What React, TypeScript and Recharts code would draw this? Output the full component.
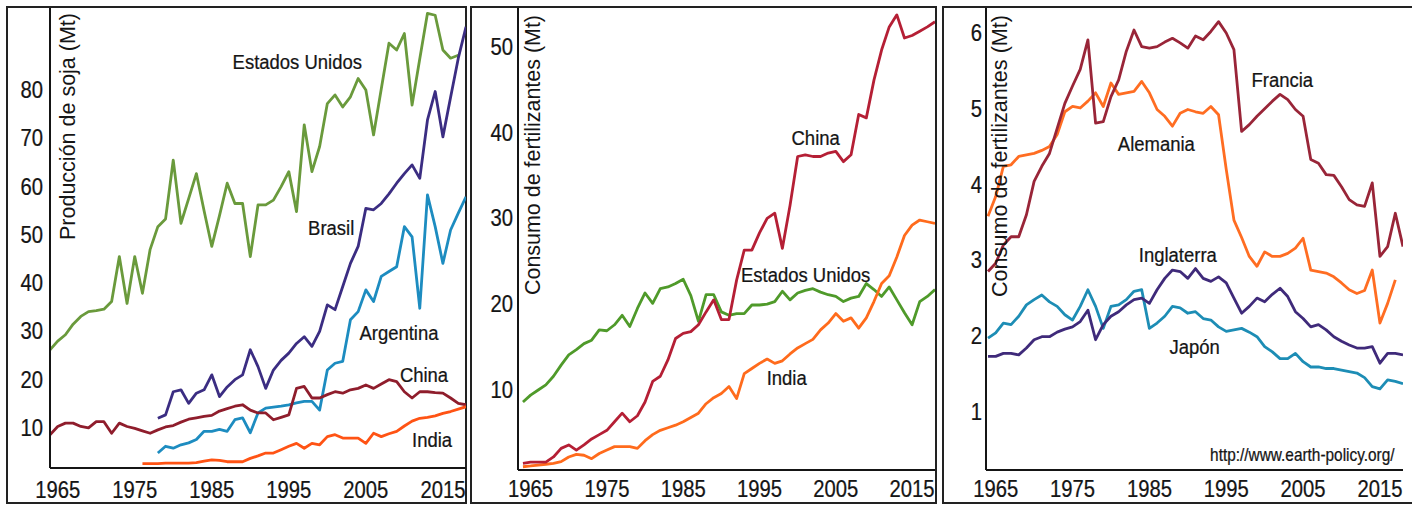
import React from "react";
import { LineChart, Line, XAxis, YAxis, ReferenceDot } from "recharts";

const FONT = '"Liberation Sans", Arial, Helvetica, sans-serif';
const INK = "#151515";

const YEARS = [
  1964, 1965, 1966, 1967, 1968, 1969, 1970, 1971, 1972, 1973,
  1974, 1975, 1976, 1977, 1978, 1979, 1980, 1981, 1982, 1983,
  1984, 1985, 1986, 1987, 1988, 1989, 1990, 1991, 1992, 1993,
  1994, 1995, 1996, 1997, 1998, 1999, 2000, 2001, 2002, 2003,
  2004, 2005, 2006, 2007, 2008, 2009, 2010, 2011, 2012, 2013,
  2014, 2015, 2016, 2017, 2018,
];
const YEAR_TICKS = [1965, 1975, 1985, 1995, 2005, 2015];

// --- producción de soja (Mt) ---
const SOY_US = [
  26.2, 28.0, 29.3, 31.5, 33.1, 34.1, 34.3, 34.6, 36.2, 45.5,
  35.8, 45.5, 37.9, 47.0, 51.7, 53.3, 65.5, 52.4, 57.5, 62.7,
  55.0, 47.6, 54.0, 60.7, 56.5, 56.5, 45.5, 56.2, 56.2, 57.2,
  60.0, 63.1, 54.8, 72.8, 63.1, 68.3, 77.2, 79.0, 76.5, 78.6,
  82.4, 80.0, 70.7, 80.2, 89.7, 88.3, 91.7, 76.9, 86.5, 95.9,
  95.5, 88.3, 86.6, 87.2, null,
];
const SOY_BRASIL = [
  null, null, null, null, null, null, null, null, null, null,
  null, null, null, null, 12.0, 12.7, 17.5, 17.9, 15.1, 17.2,
  17.9, 21.0, 16.5, 18.5, 20.0, 21.0, 26.2, 22.7, 18.2, 22.0,
  24.0, 25.5, 27.5, 28.9, 26.9, 30.0, 35.5, 34.5, 39.3, 44.1,
  47.6, 55.5, 55.2, 56.5, 58.5, 60.7, 62.7, 64.5, 61.7, 73.8,
  79.7, 70.3, 78.5, 86.6, 93.1,
];
const SOY_ARGENTINA = [
  null, null, null, null, null, null, null, null, null, null,
  null, null, null, null, 4.8, 6.2, 5.8, 6.5, 6.9, 7.6,
  9.3, 9.3, 9.7, 9.3, 11.7, 12.1, 9.0, 13.1, 14.1, 14.3,
  14.5, 14.8, 15.2, 15.5, 15.5, 13.7, 22.0, 23.4, 23.8, 32.4,
  34.1, 38.6, 36.2, 41.4, 42.4, 43.4, 51.7, 49.6, 34.8, 58.3,
  51.7, 44.1, 51.0, 54.5, 57.9,
];
const SOY_CHINA = [
  8.6, 10.3, 11.0, 11.0, 10.3, 10.0, 11.3, 11.3, 8.9, 11.0,
  10.3, 9.9, 9.4, 8.9, 9.6, 10.2, 10.5, 11.2, 11.8, 12.1,
  12.4, 12.6, 13.5, 14.0, 14.5, 14.8, 13.7, 13.1, 13.1, 11.7,
  12.2, 12.7, 18.2, 18.6, 16.2, 16.2, 16.9, 17.5, 17.2, 17.9,
  18.2, 18.9, 18.2, 19.1, 20.0, 19.6, 17.5, 16.2, 17.5, 17.5,
  17.3, 17.2, 16.2, 15.1, 14.8,
];
const SOY_INDIA = [
  null, null, null, null, null, null, null, null, null, null,
  null, null, 2.6, 2.6, 2.6, 2.7, 2.7, 2.7, 2.7, 2.8,
  3.1, 3.4, 3.3, 3.0, 3.0, 3.0, 3.7, 4.2, 4.8, 4.8,
  5.5, 6.2, 6.8, 5.8, 6.8, 6.5, 8.2, 8.6, 7.9, 7.9,
  7.9, 6.8, 8.9, 8.2, 8.8, 9.3, 10.4, 11.4, 12.0, 12.2,
  12.5, 13.0, 13.4, 13.9, 14.4,
];

// --- consumo de fertilizantes (Mt), China / EE.UU. / India ---
const FERT_CHINA = [
  1.45, 1.6, 1.6, 1.6, 2.2, 3.2, 3.6, 3.0, 3.6, 4.3,
  4.8, 5.3, 6.3, 7.3, 6.3, 7.0, 8.6, 11.0, 11.6, 13.5,
  16.0, 16.6, 16.8, 17.6, 19.1, 20.5, 18.2, 18.2, 22.8, 26.3,
  26.3, 28.3, 30.0, 30.6, 26.5, 31.5, 37.2, 37.4, 37.2, 37.2,
  37.6, 37.8, 36.6, 37.4, 42.1, 41.7, 46.1, 49.6, 52.3, 53.7,
  51.0, 51.3, 51.8, 52.3, 52.9,
];
const FERT_US = [
  8.6, 9.4, 10.0, 10.6, 11.6, 12.9, 14.1, 14.7, 15.4, 15.8,
  17.0, 16.9, 17.6, 18.7, 17.4, 19.5, 21.3, 20.1, 21.8, 22.0,
  22.4, 22.9, 21.0, 18.0, 21.1, 21.1, 19.1, 18.7, 18.9, 18.9,
  19.9, 19.9, 20.0, 20.3, 21.5, 20.5, 21.3, 21.6, 21.8, 21.4,
  21.1, 20.9, 20.3, 20.7, 20.9, 22.4, 21.7, 20.9, 22.0, 20.5,
  19.0, 17.6, 20.3, 20.9, 21.7,
];
const FERT_INDIA = [
  1.06, 1.15, 1.26, 1.35, 1.45, 1.65, 2.2, 2.5, 2.4, 2.0,
  2.6, 3.0, 3.4, 3.4, 3.4, 3.2, 4.1, 4.8, 5.3, 5.6,
  5.9, 6.3, 6.8, 7.3, 8.4, 9.1, 9.6, 10.4, 9.0, 11.9,
  12.5, 13.1, 13.6, 13.1, 13.4, 14.2, 14.9, 15.4, 15.9, 17.0,
  17.8, 18.9, 18.0, 18.4, 17.2, 18.4, 20.3, 22.4, 23.3, 25.5,
  28.0, 29.2, 29.8, 29.6, 29.4,
];

// --- consumo de fertilizantes (Mt), Europa / Japón ---
const FERT_FRANCIA = [
  2.85, 2.96, 3.2, 3.31, 3.31, 3.6, 4.04, 4.24, 4.41, 4.74,
  5.07, 5.3, 5.52, 5.91, 4.81, 4.83, 5.16, 5.38, 5.76, 6.04,
  5.82, 5.8, 5.82, 5.88, 5.93, 5.87, 5.8, 5.96, 5.91, 6.02,
  6.15, 6.0, 5.78, 4.7, 4.79, 4.9, 5.0, 5.1, 5.19, 5.12,
  4.99, 4.9, 4.33, 4.28, 4.13, 4.12, 3.97, 3.8, 3.73, 3.71,
  4.02, 3.05, 3.18, 3.62, 3.18,
];
const FERT_ALEMANIA = [
  3.58, 3.84, 4.24, 4.26, 4.37, 4.39, 4.41, 4.45, 4.5, 4.66,
  4.96, 5.03, 5.01, 5.1, 5.21, 5.03, 5.34, 5.19, 5.21, 5.23,
  5.36, 5.21, 4.99, 4.9, 4.77, 4.94, 4.99, 4.96, 4.94, 5.03,
  4.92, 4.2, 3.53, 3.3, 3.05, 2.92, 3.11, 3.05, 3.05, 3.09,
  3.16, 3.29, 2.87, 2.85, 2.83, 2.78, 2.7, 2.61, 2.56, 2.6,
  2.87, 2.17, 2.43, 2.74, null,
];
const FERT_INGLATERRA = [
  1.73, 1.73, 1.77, 1.77, 1.75, 1.84, 1.95, 1.99, 1.99, 2.05,
  2.09, 2.12, 2.19, 2.34, 1.95, 2.15, 2.26, 2.32, 2.41, 2.48,
  2.5, 2.43, 2.61, 2.76, 2.87, 2.85, 2.76, 2.89, 2.76, 2.72,
  2.78, 2.7, 2.5, 2.3, 2.39, 2.5, 2.45, 2.55, 2.63, 2.52,
  2.32, 2.23, 2.12, 2.15, 2.08, 1.99, 1.93, 1.88, 1.84, 1.84,
  1.86, 1.64, 1.77, 1.77, 1.75,
];
const FERT_JAPON = [
  1.97, 2.04, 2.17, 2.15, 2.26, 2.41, 2.48, 2.54, 2.45, 2.39,
  2.28, 2.21, 2.39, 2.61, 2.39, 2.1, 2.39, 2.41, 2.48, 2.59,
  2.61, 2.1, 2.17, 2.26, 2.39, 2.37, 2.3, 2.32, 2.23, 2.21,
  2.12, 2.06, 2.08, 2.1, 2.05, 1.99, 1.86, 1.79, 1.7, 1.7,
  1.77, 1.66, 1.59, 1.59, 1.57, 1.57, 1.55, 1.53, 1.51, 1.45,
  1.33, 1.3, 1.42, 1.4, 1.37,
];

const SOY_TICKS = [10, 20, 30, 40, 50, 60, 70, 80];
const FERT_TICKS = [10, 20, 30, 40, 50];
const EURO_TICKS = [1, 2, 3, 4, 5, 6];

type Series = { key: string; values: (number | null)[]; color: string };
type Note = { text: string; x: number; y: number; size?: number };

type PanelProps = {
  left: number;
  width: number;
  margin: { top: number; right: number; bottom: number; left: number };
  xDomain: [number, number];
  yDomain: [number, number];
  yTicks: number[];
  yTickGap: number;
  xLabelDy: number;
  title: string;
  titleGap: number;
  titleTop: number;
  titleLength: number;
  series: Series[];
  notes: Note[];
};

const AXIS_W = 50;

// text squeezed horizontally, like the (stretched) original picture
function Squeezed({ x, y, text, size, anchor = "middle", dy = "0.35em" }: any) {
  return (
    <g transform={`translate(${x},${y})`}>
      <text
        transform="scale(0.88,1)"
        textAnchor={anchor}
        dy={dy}
        fontSize={size}
        fill={INK}
        stroke={INK}
        strokeWidth={0.25}
        fontFamily={FONT}
      >
        {text}
      </text>
    </g>
  );
}

function Panel(p: PanelProps) {
  const rows = YEARS.map((year, i) => {
    const row: Record<string, number | null> = { year };
    p.series.forEach((s) => {
      row[s.key] = s.values[i];
    });
    return row;
  });

  const title = () => {
    const x = AXIS_W + p.titleGap;
    const y = p.titleTop;
    return (
      <text
        x={x}
        y={y}
        transform={`rotate(-90 ${x} ${y})`}
        textAnchor="end"
        fontSize={22}
        textLength={p.titleLength}
        lengthAdjust="spacingAndGlyphs"
        fill={INK}
        fontFamily={FONT}
      >
        {p.title}
      </text>
    );
  };

  return (
    <div style={{ position: "absolute", left: p.left, top: 0 }}>
      <LineChart width={p.width} height={506} data={rows} margin={p.margin}>
        <XAxis
          dataKey="year"
          type="number"
          domain={p.xDomain}
          allowDataOverflow
          ticks={YEAR_TICKS}
          interval={0}
          height={30}
          tickSize={0}
          tickMargin={0}
          tickLine={false}
          axisLine={{ stroke: INK, strokeWidth: 2 }}
          tick={(t: any) => (
            <Squeezed x={t.x} y={t.y + p.xLabelDy} text={t.payload.value} size={23} dy={0} />
          )}
        />
        <YAxis
          type="number"
          width={AXIS_W}
          domain={p.yDomain}
          allowDataOverflow
          ticks={p.yTicks}
          interval={0}
          tickSize={0}
          tickMargin={p.yTickGap}
          tickLine={false}
          axisLine={{ stroke: INK, strokeWidth: 2 }}
          tick={(t: any) => (
            <Squeezed x={t.x} y={t.y} text={t.payload.value} size={23} anchor="end" />
          )}
          label={{ content: title }}
        />
        {p.series.map((s) => (
          <Line
            key={s.key}
            type="linear"
            dataKey={s.key}
            stroke={s.color}
            strokeWidth={2.8}
            strokeLinejoin="round"
            dot={false}
            activeDot={false}
            isAnimationActive={false}
          />
        ))}
        {p.notes.map((n) => (
          <ReferenceDot
            key={n.text}
            x={n.x}
            y={n.y}
            r={1}
            fill="none"
            stroke="none"
            ifOverflow="visible"
            label={{
              content: (lp: any) => {
                const vb = lp.viewBox || { x: 0, y: 0, width: 0, height: 0 };
                return (
                  <Squeezed
                    x={vb.x + (vb.width || 0) / 2}
                    y={vb.y + (vb.height || 0) / 2}
                    text={n.text}
                    size={n.size ?? 21}
                  />
                );
              },
            }}
          />
        ))}
      </LineChart>
    </div>
  );
}

const frame = (left: number, width: number): React.CSSProperties => ({
  position: "absolute",
  left,
  top: 6,
  width,
  height: 498,
  border: "2px solid #222",
  boxSizing: "border-box",
});

export default function App() {
  return (
    <div
      style={{
        position: "absolute",
        left: 0,
        top: 0,
        width: 1412,
        height: 506,
        overflow: "hidden",
        background: "#fff",
        fontFamily: FONT,
      }}
    >
      <div style={frame(6, 461)} />
      <div style={frame(470, 467)} />
      <div style={frame(942, 480)} />

      <Panel
        left={0}
        width={470}
        margin={{ top: 8, right: 4, bottom: 8, left: 0 }}
        xDomain={[1964, 2018]}
        yDomain={[1.7, 97]}
        yTicks={SOY_TICKS}
        yTickGap={7}
        xLabelDy={30}
        title="Producción de soja (Mt)"
        titleGap={25}
        titleTop={13}
        titleLength={227}
        series={[
          { key: "us", values: SOY_US, color: "#6a9a3c" },
          { key: "brasil", values: SOY_BRASIL, color: "#3b2d82" },
          { key: "argentina", values: SOY_ARGENTINA, color: "#1d8cc0" },
          { key: "china", values: SOY_CHINA, color: "#8f1d2c" },
          { key: "india", values: SOY_INDIA, color: "#ff5314" },
        ]}
        notes={[
          { text: "Estados Unidos", x: 1996.1, y: 85.8 },
          { text: "Brasil", x: 2000.5, y: 51.6 },
          { text: "Argentina", x: 2009.3, y: 29.7 },
          { text: "China", x: 2012.55, y: 21.0 },
          { text: "India", x: 2013.6, y: 7.5 },
        ]}
      />

      <Panel
        left={468}
        width={470}
        margin={{ top: 8, right: 3, bottom: 6, left: 0 }}
        xDomain={[1963.35, 2018]}
        yDomain={[0.68, 54.5]}
        yTicks={FERT_TICKS}
        yTickGap={5}
        xLabelDy={27}
        title="Consumo de fertilizantes (Mt)"
        titleGap={22}
        titleTop={15}
        titleLength={280}
        series={[
          { key: "us", values: FERT_US, color: "#4f9a2a" },
          { key: "india", values: FERT_INDIA, color: "#ff6b1c" },
          { key: "china", values: FERT_CHINA, color: "#b51f35" },
        ]}
        notes={[
          { text: "China", x: 2002.36, y: 39.36 },
          { text: "Estados Unidos", x: 2001.05, y: 23.4 },
          { text: "India", x: 1998.56, y: 11.4 },
        ]}
      />

      <Panel
        left={936}
        width={476}
        margin={{ top: 8, right: 9, bottom: 6, left: 0 }}
        xDomain={[1963.74, 2018]}
        yDomain={[0.23, 6.33]}
        yTicks={EURO_TICKS}
        yTickGap={4}
        xLabelDy={27}
        title="Consumo de fertilizantes (Mt)"
        titleGap={21}
        titleTop={15}
        titleLength={282}
        series={[
          { key: "japon", values: FERT_JAPON, color: "#1d8db5" },
          { key: "inglaterra", values: FERT_INGLATERRA, color: "#3f2a7a" },
          { key: "alemania", values: FERT_ALEMANIA, color: "#ff6d22" },
          { key: "francia", values: FERT_FRANCIA, color: "#992538" },
        ]}
        notes={[
          { text: "Francia", x: 2002.3, y: 5.38 },
          { text: "Alemania", x: 1985.9, y: 4.54 },
          { text: "Inglaterra", x: 1988.7, y: 3.07 },
          { text: "Japón", x: 1990.9, y: 1.86 },
          { text: "http://www.earth-policy.org/", x: 2004.9, y: 0.43, size: 17.5 },
        ]}
      />
    </div>
  );
}
